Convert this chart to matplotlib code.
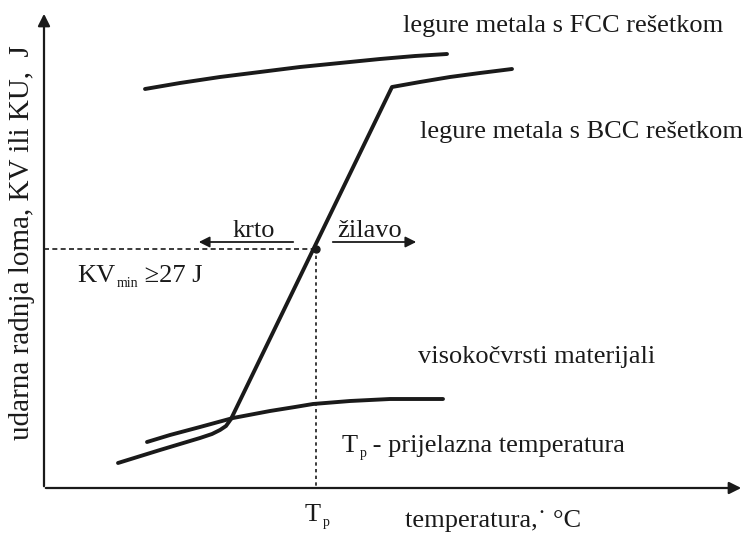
import numpy as np
import matplotlib.pyplot as plt

plt.rcParams['font.family'] = ['Liberation Serif', 'DejaVu Serif']

# curve points (pixel-like units, y grows downward)
fcc_x = [145, 180, 220, 260, 300, 340, 380, 415, 447]
fcc_y = [89, 83, 77, 72, 67, 63, 59, 56, 54]

bcc_x = [118, 160, 200, 212, 220, 226, 231, 392, 420, 450, 480, 512]
bcc_y = [463, 450, 438, 434, 430, 426, 419, 87, 82, 77, 73, 69]

hs_x = [147, 170, 200, 233, 270, 295, 313, 350, 390, 420, 443]
hs_y = [442, 435, 427, 418, 411, 407, 404, 401, 399, 399, 399]

tp_x = 316
kv_min = 249

fig = plt.figure(figsize=(7.48, 5.36), dpi=100)
ax = fig.add_axes([0, 0, 1, 1])
ax.set_xlim(0, 748)
ax.set_ylim(536, 0)
ax.axis('off')

col = '#1a1a1a'

# axes with arrow heads
ax.annotate('', xy=(44, 11), xytext=(44, 489),
            arrowprops=dict(arrowstyle='-|>', color=col, lw=1.6, mutation_scale=18))
ax.annotate('', xy=(744, 488), xytext=(43, 488),
            arrowprops=dict(arrowstyle='-|>', color=col, lw=1.6, mutation_scale=18))

# curves
ax.plot(fcc_x, fcc_y, color=col, lw=2.8, solid_capstyle='round', solid_joinstyle='round')
ax.plot(bcc_x, bcc_y, color=col, lw=2.8, solid_capstyle='round', solid_joinstyle='round')
ax.plot(hs_x, hs_y, color=col, lw=2.8, solid_capstyle='round', solid_joinstyle='round')

# transition temperature guides
ax.plot([44, tp_x], [kv_min, kv_min], color=col, lw=1.2, ls=(0, (3, 2)))
ax.plot([tp_x, tp_x], [kv_min, 488], color=col, lw=1.2, ls=(0, (2, 2)))
ax.plot(tp_x, kv_min, 'o', color=col, ms=5)

# krto / zilavo arrows
ax.annotate('', xy=(196, 242), xytext=(296, 242),
            arrowprops=dict(arrowstyle='-|>', color=col, lw=1.3, mutation_scale=16))
ax.annotate('', xy=(419, 242), xytext=(330, 242),
            arrowprops=dict(arrowstyle='-|>', color=col, lw=1.3, mutation_scale=16))

fs = 19
sub_fs = 10


def with_sub(x, y, main, sub, rest=''):
    # main text, small lowered subscript, then the rest of the line
    t = ax.text(x, y, main, fontsize=fs, ha='left', va='baseline', color=col)
    s = ax.annotate(sub, xy=(1, 0), xycoords=t, xytext=(1, 0), textcoords='offset points',
                    fontsize=sub_fs, ha='left', va='baseline', color=col)
    if rest:
        ax.annotate(rest, xy=(1, 0), xycoords=(s, t), xytext=(0, 0), textcoords='offset points',
                    fontsize=fs, ha='left', va='bottom', color=col)


ax.text(254, 237, 'krto', fontsize=fs, ha='center', va='baseline', color=col)
ax.text(370, 237, 'žilavo', fontsize=fs, ha='center', va='baseline', color=col)
with_sub(77, 282, 'KV', 'min', ' ≥27 J')

ax.text(403, 32, 'legure metala s FCC rešetkom', fontsize=fs, ha='left', va='baseline', color=col)
ax.text(420, 138, 'legure metala s BCC rešetkom', fontsize=fs, ha='left', va='baseline', color=col)
ax.text(418, 363, 'visokočvrsti materijali', fontsize=fs, ha='left', va='baseline', color=col)
with_sub(342, 452, 'T', 'p', ' - prijelazna temperatura')
with_sub(305, 521, 'T', 'p')
ax.text(405, 527, 'temperatura,˙ °C', fontsize=fs, ha='left', va='baseline', color=col)

ax.text(22, 243, 'udarna radnja loma, KV ili KU,  J', fontsize=21, rotation=90,
        ha='center', va='center', color=col)

fig.savefig('out.png', dpi=100, facecolor='white')
